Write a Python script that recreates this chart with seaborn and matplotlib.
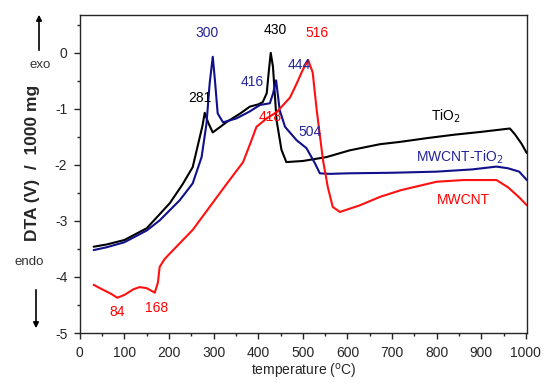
import seaborn as sns
import matplotlib.pyplot as plt
import numpy as np
import pandas as pd

# TiO2 (black)
tio2_t = [31, 60, 100, 150, 179, 202, 230, 253, 269, 275, 280, 288, 298, 315, 330, 360, 381, 400, 410, 419, 424, 428, 433, 441, 452, 463, 480, 500, 553, 605, 673, 717, 780, 840, 900, 964, 975, 990, 1002]
tio2_y = [-3.46, -3.42, -3.34, -3.13, -2.88, -2.68, -2.35, -2.04, -1.5, -1.3, -1.07, -1.25, -1.42, -1.32, -1.23, -1.08, -0.96, -0.92, -0.88, -0.72, -0.3, 0.0, -0.25, -1.2, -1.73, -1.95, -1.94, -1.93, -1.86, -1.74, -1.63, -1.59, -1.52, -1.46, -1.41, -1.35, -1.45, -1.62, -1.79]

# MWCNT-TiO2 (blue)
blue_t = [31, 60, 100, 150, 179, 224, 253, 273, 284, 291, 298, 303, 309, 321, 351, 380, 404, 426, 433, 440, 448, 460, 486, 508, 527, 538, 560, 600, 700, 800, 880, 934, 960, 985, 1002]
blue_y = [-3.52, -3.47, -3.38, -3.17, -2.99, -2.63, -2.33, -1.86, -1.26, -0.55, -0.07, -0.5, -1.08, -1.24, -1.17, -1.05, -0.93, -0.9, -0.73, -0.49, -1.02, -1.32, -1.56, -1.7, -1.97, -2.15, -2.16, -2.15, -2.14, -2.12, -2.08, -2.03, -2.06, -2.12, -2.27]

# MWCNT (red)
red_t = [31, 50, 70, 84, 100, 120, 134, 150, 168, 175, 179, 190, 202, 253, 291, 330, 366, 382, 396, 419, 441, 471, 486, 500, 512, 522, 531, 545, 556, 567, 583, 628, 673, 720, 800, 860, 934, 960, 985, 1002]
red_y = [-4.14, -4.22, -4.3, -4.37, -4.32, -4.22, -4.18, -4.2, -4.28, -4.1, -3.82, -3.68, -3.58, -3.16, -2.75, -2.33, -1.95, -1.62, -1.32, -1.17, -1.06, -0.8, -0.55, -0.3, -0.13, -0.35, -1.02, -1.91, -2.4, -2.75, -2.84, -2.72, -2.57, -2.45, -2.3, -2.27, -2.27, -2.4, -2.58, -2.72]

# peak labels: text, x, y, colour
peak_text = ['300', '430', '516', '281', '416', '444', '418', '504', '84', '168']
peak_x = [285, 437, 531, 269, 386, 493, 426, 516, 83, 173]
peak_y = [0.35, 0.40, 0.35, -0.81, -0.52, -0.22, -1.15, -1.41, -4.62, -4.55]
peak_col = ['#23239a', 'black', 'red', 'black', '#23239a', '#23239a', 'red', '#23239a', 'red', 'red']

sns.set_style('ticks')
plt.rcParams['font.family'] = ['Liberation Sans', 'DejaVu Sans']

df = pd.concat([
    pd.DataFrame({'T': tio2_t, 'DTA': tio2_y, 'sample': 'TiO2'}),
    pd.DataFrame({'T': blue_t, 'DTA': blue_y, 'sample': 'MWCNT-TiO2'}),
    pd.DataFrame({'T': red_t, 'DTA': red_y, 'sample': 'MWCNT'}),
])
pal = {'TiO2': 'black', 'MWCNT-TiO2': '#10108a', 'MWCNT': '#ff1010'}

fig = plt.figure(figsize=(5.43, 3.83), dpi=100)
ax = fig.add_axes([0.147, 0.1305, 0.824, 0.831])
sns.lineplot(data=df, x='T', y='DTA', hue='sample', palette=pal, lw=1.5,
             legend=False, ax=ax, sort=False)

ax.set_xlim(0, 1003)
ax.set_ylim(-5, 0.68)
ax.set_xticks(np.arange(0, 1001, 100))
ax.set_xticks(np.arange(50, 1000, 100), minor=True)
ax.set_yticks(np.arange(-5, 0.1, 1))
ax.set_yticks(np.arange(-4.5, 0.6, 1), minor=True)
ax.set_yticklabels([str(v) for v in range(-5, 1)])
ax.tick_params(which='major', length=4, width=1, labelsize=10, direction='out', pad=5)
ax.tick_params(which='minor', length=2.5, width=1, direction='out')
for s in ax.spines.values():
    s.set_linewidth(1)
ax.set_xlabel('temperature ($^{\\mathrm{o}}$C)', fontsize=10, labelpad=2)
ax.set_ylabel('')

for t, x, y, c in zip(peak_text, peak_x, peak_y, peak_col):
    ax.text(x, y, t, color=c, fontsize=10, ha='center', va='center')

ax.text(820, -1.13, 'TiO$_2$', color='black', fontsize=10, ha='center', va='center')
ax.text(852, -1.86, 'MWCNT-TiO$_2$', color='#23239a', fontsize=10, ha='center', va='center')
ax.text(859, -2.63, 'MWCNT', color='red', fontsize=10, ha='center', va='center')

# y label and exo/endo arrows in figure pixels
H = 383.0
fig.text(33 / 543, 1 - 163 / H, 'DTA (V)  /  1000 mg', rotation=90, fontsize=12.5,
         fontweight='bold', ha='center', va='center')
fig.text(40 / 543, 1 - 65 / H, 'exo', fontsize=9.5, color='#333333', ha='center', va='center')
fig.text(29 / 543, 1 - 262 / H, 'endo', fontsize=9.5, color='#333333', ha='center', va='center')
fig.add_artist(plt.matplotlib.patches.FancyArrowPatch(
    (39 / 543, 1 - 53 / H), (39 / 543, 1 - 12 / H), transform=fig.transFigure,
    arrowstyle='-|>', mutation_scale=8, lw=1.2, color='black'))
fig.add_artist(plt.matplotlib.patches.FancyArrowPatch(
    (36 / 543, 1 - 287 / H), (36 / 543, 1 - 331 / H), transform=fig.transFigure,
    arrowstyle='-|>', mutation_scale=8, lw=1.2, color='black'))

fig.savefig('out.png', dpi=100)
